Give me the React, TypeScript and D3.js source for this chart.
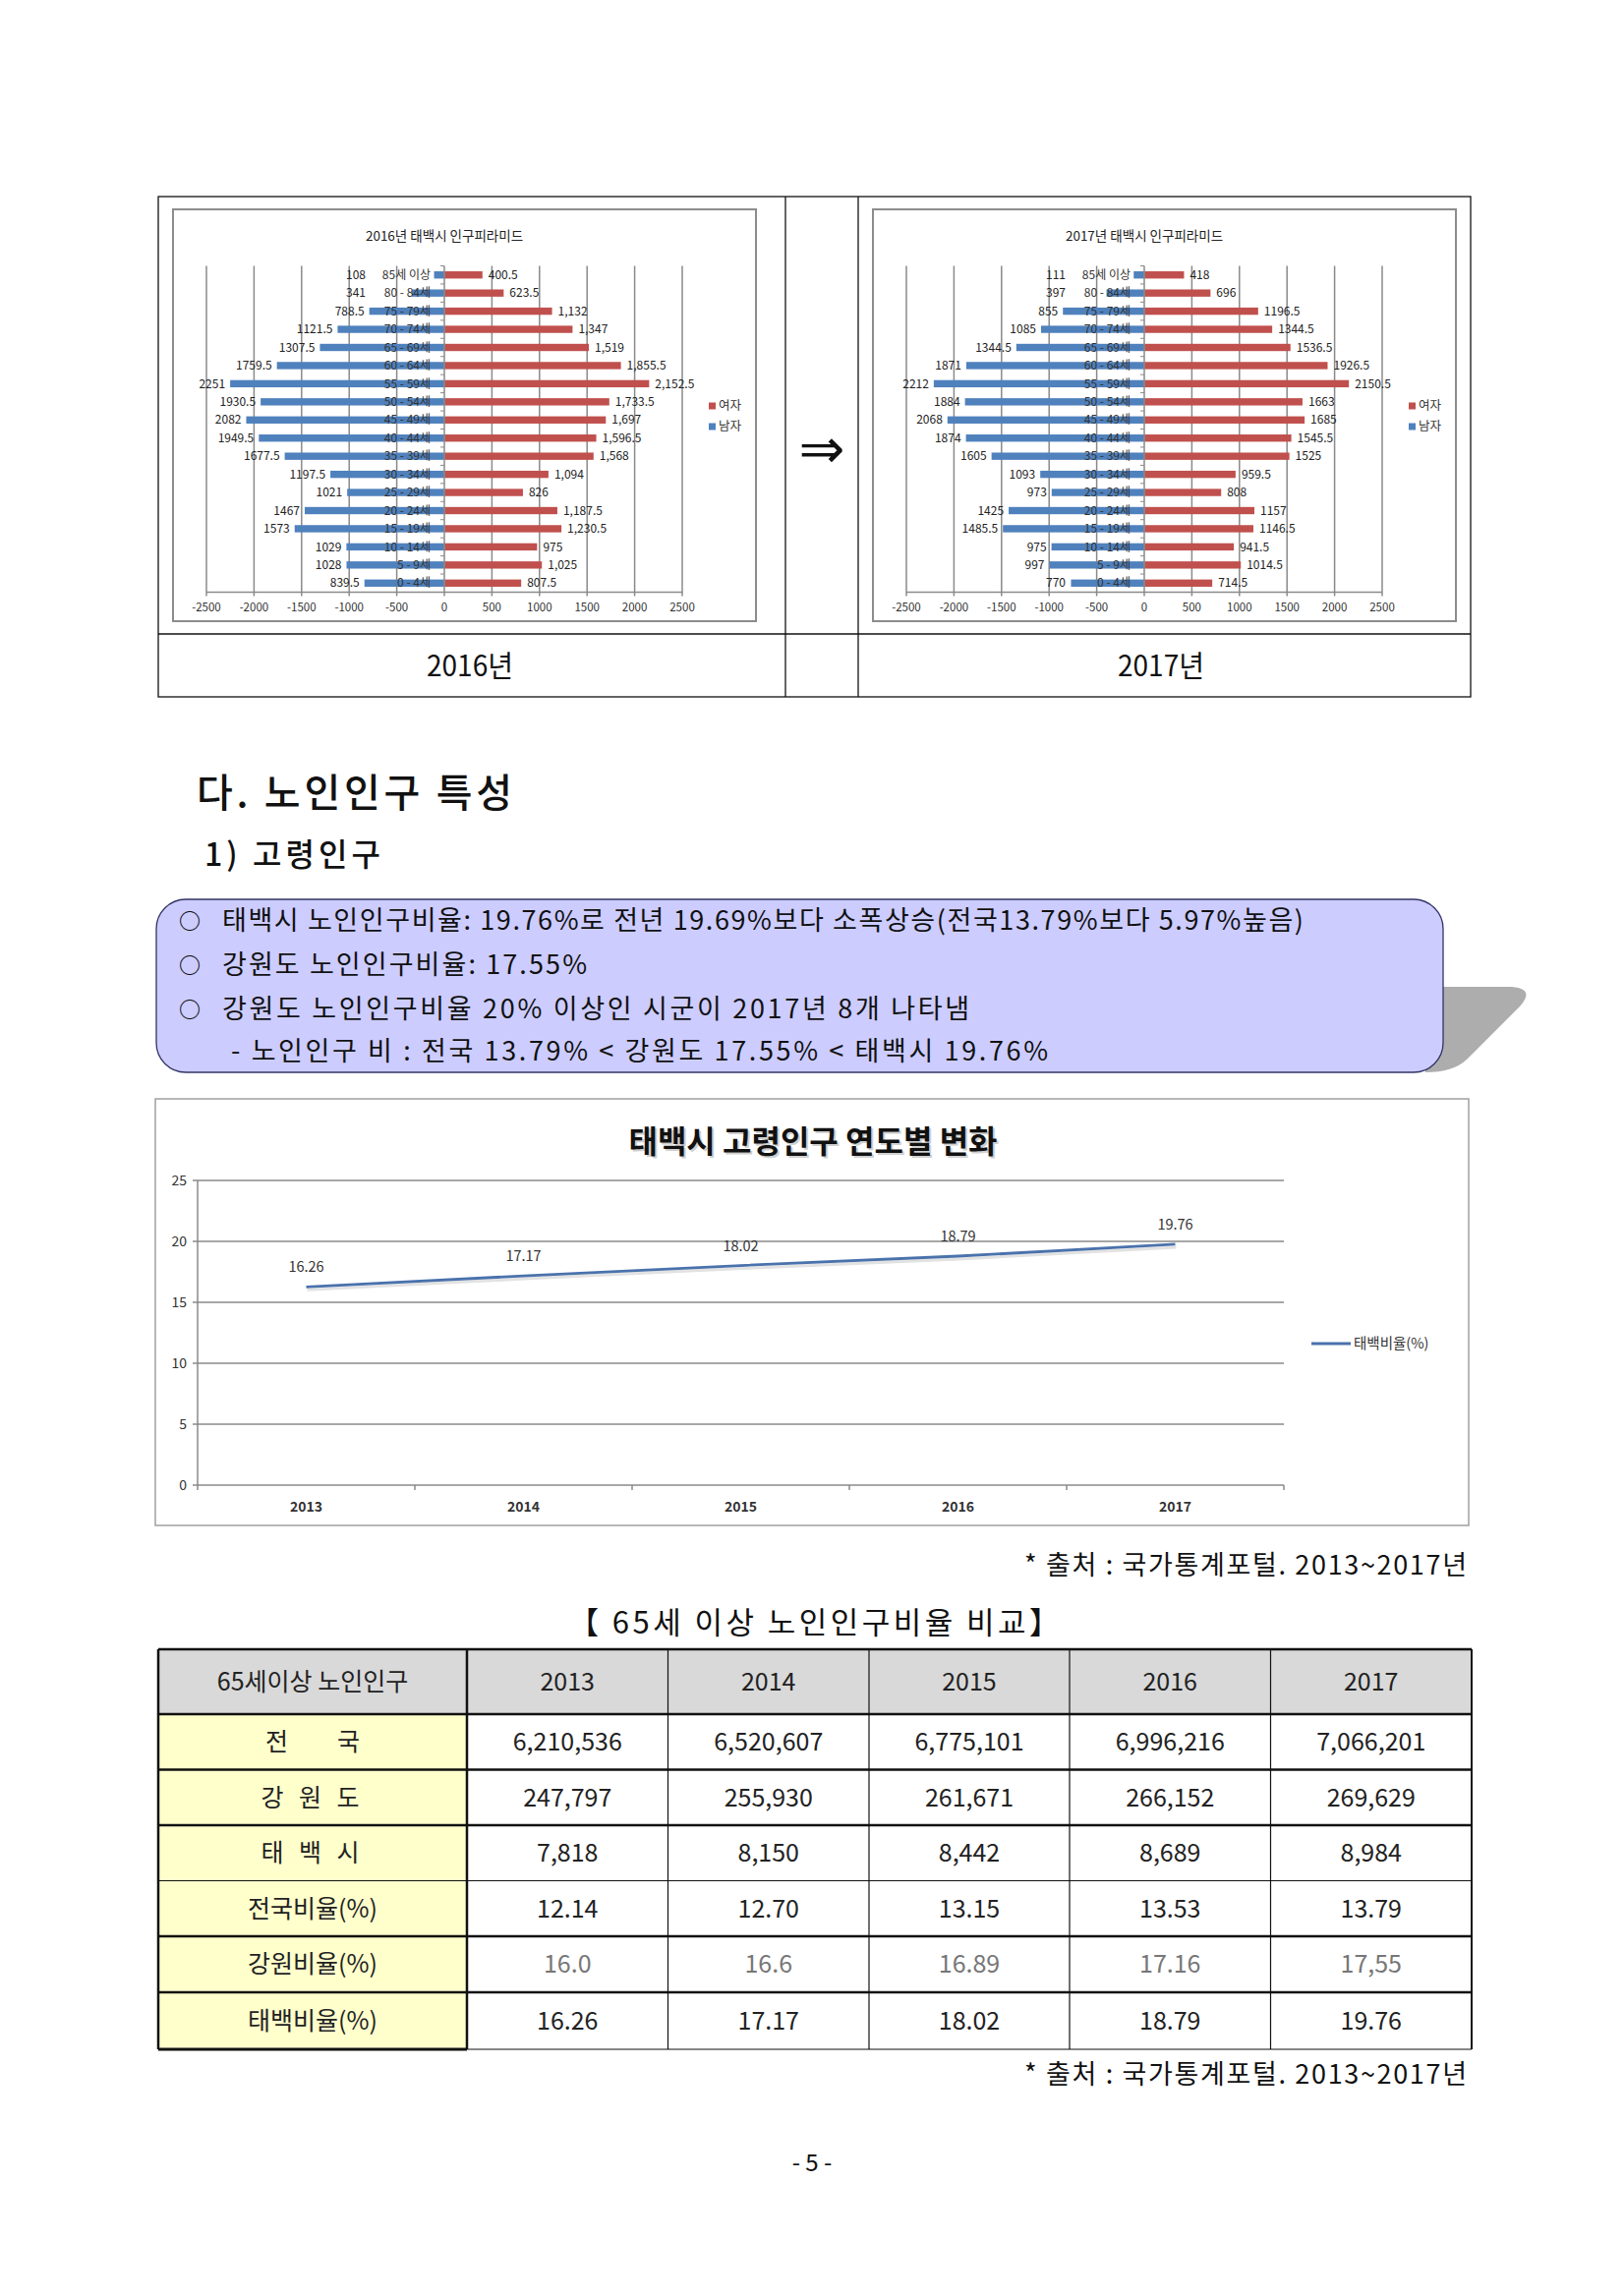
import React from "react";
import * as d3 from "d3";

// 연령대 (위에서 아래로)
const ages = [
  "85세 이상", "80 - 84세", "75 - 79세", "70 - 74세", "65 - 69세", "60 - 64세",
  "55 - 59세", "50 - 54세", "45 - 49세", "40 - 44세", "35 - 39세", "30 - 34세",
  "25 - 29세", "20 - 24세", "15 - 19세", "10 - 14세", "5 - 9세", "0 - 4세",
];

const male2016 = [108, 341, 788.5, 1121.5, 1307.5, 1759.5, 2251, 1930.5, 2082, 1949.5, 1677.5, 1197.5, 1021, 1467, 1573, 1029, 1028, 839.5];
const female2016 = [400.5, 623.5, 1132, 1347, 1519, 1855.5, 2152.5, 1733.5, 1697, 1596.5, 1568, 1094, 826, 1187.5, 1230.5, 975, 1025, 807.5];
const male2017 = [111, 397, 855, 1085, 1344.5, 1871, 2212, 1884, 2068, 1874, 1605, 1093, 973, 1425, 1485.5, 975, 997, 770];
const female2017 = [418, 696, 1196.5, 1344.5, 1536.5, 1926.5, 2150.5, 1663, 1685, 1545.5, 1525, 959.5, 808, 1157, 1146.5, 941.5, 1014.5, 714.5];

const pyramidTicks = [-2500, -2000, -1500, -1000, -500, 0, 500, 1000, 1500, 2000, 2500];

// 고령인구 연도별
const years = ["2013", "2014", "2015", "2016", "2017"];
const taebaekRatio = [16.26, 17.17, 18.02, 18.79, 19.76];
const ratioTicks = [0, 5, 10, 15, 20, 25];

// 표
const tableHeader = "65세이상 노인인구";
const rowLabels = ["전\u3000\u3000국", "강 원 도", "태 백 시", "전국비율(%)", "강원비율(%)", "태백비율(%)"];
const nationPop = ["6,210,536", "6,520,607", "6,775,101", "6,996,216", "7,066,201"];
const gangwonPop = ["247,797", "255,930", "261,671", "266,152", "269,629"];
const taebaekPop = ["7,818", "8,150", "8,442", "8,689", "8,984"];
const nationRate = ["12.14", "12.70", "13.15", "13.53", "13.79"];
const gangwonRate = ["16.0", "16.6", "16.89", "17.16", "17,55"];
const taebaekRate = ["16.26", "17.17", "18.02", "18.79", "19.76"];

const FONT = "'Noto Sans CJK KR', 'Noto Sans', sans-serif";
const BLUE = "#4f81bd";
const RED = "#c0504d";
const GRID = "#8a8a8a";

function Pyramid({ dx, title, male, female, femaleFmt }) {
  const x = d3.scaleLinear().domain([-2500, 2500]).range([210 + dx, 694 + dx]);
  const y = d3.scaleBand().domain(ages).range([270.5, 602.5]).paddingInner(0.6).paddingOuter(0.3);
  const x0 = x(0);
  const step = y.step();
  const top = 270.5, bottom = 602.5;
  return (
    <g fontFamily={FONT}>
      <rect x={176 + dx} y={213} width={593} height={419} fill="#fff" stroke="#8c8c8c" strokeWidth={2} />
      <text x={x0} y={240} textAnchor="middle" dy="0.35em" fontSize={13.5} fill="#222">{title}</text>
      {pyramidTicks.filter((t) => t !== 0).map((t) => (
        <line key={t} x1={x(t)} x2={x(t)} y1={top} y2={bottom + 4} stroke={GRID} strokeWidth={1.5} />
      ))}
      <line x1={x(-2500)} x2={x(2500)} y1={bottom} y2={bottom} stroke={GRID} strokeWidth={1.5} />
      {male.map((v, i) => (
        <rect key={"m" + i} x={x(-v)} y={y(ages[i])} width={x0 - x(-v)} height={y.bandwidth()} fill={BLUE} />
      ))}
      {female.map((v, i) => (
        <rect key={"f" + i} x={x0} y={y(ages[i])} width={x(v) - x0} height={y.bandwidth()} fill={RED} />
      ))}
      <line x1={x0} x2={x0} y1={top} y2={bottom + 4} stroke={GRID} strokeWidth={1.5} />
      {d3.range(ages.length + 1).map((i) => (
        <line key={"t" + i} x1={x0 - 4} x2={x0} y1={top + i * step} y2={top + i * step} stroke={GRID} strokeWidth={1} />
      ))}
      {ages.map((a) => (
        <text key={a} x={x0 - 14} y={y(a) + y.bandwidth() / 2} dy="0.35em" textAnchor="end" fontSize={12} fill="#333">{a}</text>
      ))}
      {male.map((v, i) => (
        <text key={"ml" + i} x={Math.min(x(-v) - 5, x0 - 80)} y={y(ages[i]) + y.bandwidth() / 2} dy="0.35em" textAnchor="end" fontSize={12} fill="#222">{String(v)}</text>
      ))}
      {female.map((v, i) => (
        <text key={"fl" + i} x={x(v) + 6} y={y(ages[i]) + y.bandwidth() / 2} dy="0.35em" fontSize={12} fill="#222">{femaleFmt(v)}</text>
      ))}
      {pyramidTicks.map((t) => (
        <text key={"tl" + t} x={x(t)} y={617.5} dy="0.35em" textAnchor="middle" fontSize={11.5} fill="#333">{String(t)}</text>
      ))}
      <rect x={721 + dx} y={409.5} width={7} height={7} fill={RED} />
      <text x={731 + dx} y={413} dy="0.35em" fontSize={12.5} fill="#333">여자</text>
      <rect x={721 + dx} y={430.5} width={7} height={7} fill={BLUE} />
      <text x={731 + dx} y={434} dy="0.35em" fontSize={12.5} fill="#333">남자</text>
    </g>
  );
}

function LineChart() {
  const x = d3.scaleBand().domain(years).range([201, 1306]);
  const y = d3.scaleLinear().domain([0, 25]).range([1511, 1201]);
  const pts = years.map((yr, i) => ({ yr, v: taebaekRatio[i] }));
  const line = d3.line().x((d) => x(d.yr) + x.bandwidth() / 2).y((d) => y(d.v));
  const edges = years.map((yr) => x(yr)).concat([1306]);
  return (
    <g fontFamily={FONT}>
      <rect x={158} y={1118} width={1336} height={434} fill="#fff" stroke="#a0a0a0" strokeWidth={1.5} />
      <text x={827} y={1162} textAnchor="middle" dy="0.35em" fontSize={32} fontWeight={700} fill="#d0d0d0" transform="translate(2,2)">태백시 고령인구 연도별 변화</text>
      <text x={827} y={1162} textAnchor="middle" dy="0.35em" fontSize={32} fontWeight={700} fill="#111">태백시 고령인구 연도별 변화</text>
      {ratioTicks.map((t) => (
        <g key={t}>
          <line x1={196} x2={1306} y1={y(t)} y2={y(t)} stroke={GRID} strokeWidth={1.5} />
          <text x={190} y={y(t)} dy="0.35em" textAnchor="end" fontSize={14} fill="#333">{t}</text>
        </g>
      ))}
      <line x1={201} x2={201} y1={y(25)} y2={y(0)} stroke={GRID} strokeWidth={1.5} />
      {edges.map((e, i) => (
        <line key={i} x1={e} x2={e} y1={y(0)} y2={y(0) + 5} stroke={GRID} strokeWidth={1.5} />
      ))}
      {years.map((yr) => (
        <text key={yr} x={x(yr) + x.bandwidth() / 2} y={1533} dy="0.35em" textAnchor="middle" fontSize={14} fontWeight={600} fill="#333">{yr}</text>
      ))}
      <path d={line(pts)} fill="none" stroke="#e2e2e2" strokeWidth={3} transform="translate(1,3)" />
      <path d={line(pts)} fill="none" stroke="#4a72ac" strokeWidth={2.8} />
      {pts.map((p) => (
        <text key={p.yr} x={x(p.yr) + x.bandwidth() / 2} y={y(p.v) - 20} dy="0.35em" textAnchor="middle" fontSize={14.5} fill="#333">{p.v.toFixed(2)}</text>
      ))}
      <line x1={1334} x2={1374} y1={1367} y2={1367} stroke="#4a72ac" strokeWidth={2.8} />
      <text x={1377} y={1367} dy="0.35em" fontSize={14.5} fill="#333">태백비율(%)</text>
    </g>
  );
}

function DataTable() {
  const colX = [161, 475, 679.5, 884, 1088, 1292.5, 1497];
  const rowY = [1678, 1744, 1800.5, 1857, 1913.5, 1970, 2027, 2085];
  const rows = [nationPop, gangwonPop, taebaekPop, nationRate, gangwonRate, taebaekRate];
  const thick = [true, true, true, false, true, true, false];
  const cy = (r) => (rowY[r] + rowY[r + 1]) / 2;
  const cx = (c) => (colX[c] + colX[c + 1]) / 2;
  return (
    <g fontFamily={FONT}>
      <rect x={colX[0]} y={rowY[0]} width={colX[6] - colX[0]} height={rowY[1] - rowY[0]} fill="#d9d9d9" />
      <rect x={colX[0]} y={rowY[1]} width={colX[1] - colX[0]} height={rowY[7] - rowY[1]} fill="#ffffcc" />
      {rowY.slice(1, 7).map((yy, i) => (
        <line key={"h" + i} x1={colX[0]} x2={colX[6]} y1={yy} y2={yy} stroke="#111" strokeWidth={thick[i] ? 2.5 : 1.2} />
      ))}
      <line x1={colX[0]} x2={colX[6]} y1={rowY[7]} y2={rowY[7]} stroke="#111" strokeWidth={1.2} />
      <line x1={colX[0]} x2={colX[1]} y1={rowY[7]} y2={rowY[7]} stroke="#111" strokeWidth={3} />
      {colX.slice(1, 6).map((xx, i) => (
        <line key={"v" + i} x1={xx} x2={xx} y1={rowY[0]} y2={rowY[7]} stroke="#111" strokeWidth={i === 0 ? 2.5 : 1.2} />
      ))}
      <line x1={colX[0]} x2={colX[6]} y1={rowY[0]} y2={rowY[0]} stroke="#111" strokeWidth={2.5} />
      <line x1={colX[0]} x2={colX[0]} y1={rowY[0]} y2={rowY[7]} stroke="#111" strokeWidth={2.5} />
      <line x1={colX[6]} x2={colX[6]} y1={rowY[0]} y2={rowY[7]} stroke="#111" strokeWidth={2} />
      <text x={cx(0)} y={cy(0)} dy="0.35em" textAnchor="middle" fontSize={25} fill="#222">{tableHeader}</text>
      {years.map((yr, c) => (
        <text key={yr} x={cx(c + 1)} y={cy(0)} dy="0.35em" textAnchor="middle" fontSize={25} fill="#222">{yr}</text>
      ))}
      {rowLabels.map((lab, r) => (
        <text key={lab} x={cx(0)} y={cy(r + 1)} dy="0.35em" textAnchor="middle" fontSize={25} fill="#222" letterSpacing={lab.includes(" ") ? 5 : 0} style={{ whiteSpace: "pre" }}>{lab}</text>
      ))}
      {rows.map((vals, r) =>
        vals.map((v, c) => (
          <text key={r + "-" + c} x={cx(c + 1)} y={cy(r + 1)} dy="0.35em" textAnchor="middle" fontSize={25} fill={r === 4 ? "#777" : "#222"}>{v}</text>
        ))
      )}
    </g>
  );
}

export default function App() {
  const fmtComma = d3.format(",");
  return (
    <div style={{ position: "absolute", left: 0, top: 0 }}>
      <svg width={1652} height={2336} style={{ display: "block", background: "#fff" }}>
        {/* 피라미드 틀 */}
        <g stroke="#111" strokeWidth={1.3} fill="none">
          <rect x={161} y={200} width={1335} height={509} />
          <line x1={799} x2={799} y1={200} y2={709} />
          <line x1={873} x2={873} y1={200} y2={709} />
          <line x1={161} x2={1496} y1={645} y2={645} />
        </g>
        <Pyramid dx={0} title="2016년 태백시 인구피라미드" male={male2016} female={female2016} femaleFmt={fmtComma} />
        <Pyramid dx={712} title="2017년 태백시 인구피라미드" male={male2017} female={female2017} femaleFmt={(v) => String(v)} />
        <text x={836} y={456} dy="0.35em" textAnchor="middle" fontSize={56} fontFamily="'DejaVu Sans', sans-serif" fill="#111">⇒</text>
        <text x={478} y={677} dy="0.35em" textAnchor="middle" fontSize={30} fontFamily={FONT} fill="#111" textLength={88} lengthAdjust="spacingAndGlyphs">2016년</text>
        <text x={1181} y={677} dy="0.35em" textAnchor="middle" fontSize={30} fontFamily={FONT} fill="#111" textLength={88} lengthAdjust="spacingAndGlyphs">2017년</text>

        {/* 제목 */}
        <text x={200} y={807} dy="0.35em" fontSize={40} fontWeight={500} fontFamily={FONT} fill="#111" textLength={321} lengthAdjust="spacing">다. 노인인구 특성</text>
        <text x={208} y={870} dy="0.35em" fontSize={32} fontWeight={500} fontFamily={FONT} fill="#111" textLength={179} lengthAdjust="spacing">1) 고령인구</text>

        {/* 요약 박스 */}
        <path d="M1440,1004 L1538,1004 Q1562,1006 1546,1024 L1492,1078 Q1478,1091 1450,1091 Z" fill="#adadad" />
        <rect x={159} y={915} width={1309} height={176} rx={30} ry={30} fill="#ccccff" stroke="#333366" strokeWidth={1.3} />
        <g fontFamily={FONT} fill="#111" fontSize={27}>
          <text x={193} y={937} dy="0.35em" textAnchor="middle" fontSize={22} fontWeight={700}>○</text>
          <text x={226} y={937} dy="0.35em" textLength={1100} lengthAdjust="spacing">태백시 노인인구비율: 19.76%로 전년 19.69%보다 소폭상승(전국13.79%보다 5.97%높음)</text>
          <text x={193} y={982} dy="0.35em" textAnchor="middle" fontSize={22} fontWeight={700}>○</text>
          <text x={226} y={982} dy="0.35em" textLength={371} lengthAdjust="spacing">강원도 노인인구비율: 17.55%</text>
          <text x={193} y={1027} dy="0.35em" textAnchor="middle" fontSize={22} fontWeight={700}>○</text>
          <text x={226} y={1027} dy="0.35em" textLength={760} lengthAdjust="spacing">강원도 노인인구비율 20% 이상인 시군이 2017년 8개 나타냄</text>
          <text x={235} y={1070} dy="0.35em" textLength={831} lengthAdjust="spacing">- 노인인구 비 : 전국 13.79% &lt;  강원도 17.55% &lt; 태백시 19.76%</text>
        </g>

        <LineChart />

        <text x={1492} y={1593} dy="0.35em" textAnchor="end" fontSize={27} fontFamily={FONT} fill="#111" textLength={450} lengthAdjust="spacing">* 출처 : 국가통계포털. 2013~2017년</text>
        <text x={828} y={1651} dy="0.35em" textAnchor="middle" fontSize={31} fontFamily={FONT} fill="#111" textLength={500} lengthAdjust="spacing">【 65세 이상 노인인구비율 비교】</text>

        <DataTable />

        <text x={1492} y={2111} dy="0.35em" textAnchor="end" fontSize={27} fontFamily={FONT} fill="#111" textLength={450} lengthAdjust="spacing">* 출처 : 국가통계포털. 2013~2017년</text>
        <text x={826} y={2201} dy="0.35em" textAnchor="middle" fontSize={24} fontFamily={FONT} fill="#111">- 5 -</text>
      </svg>
    </div>
  );
}
